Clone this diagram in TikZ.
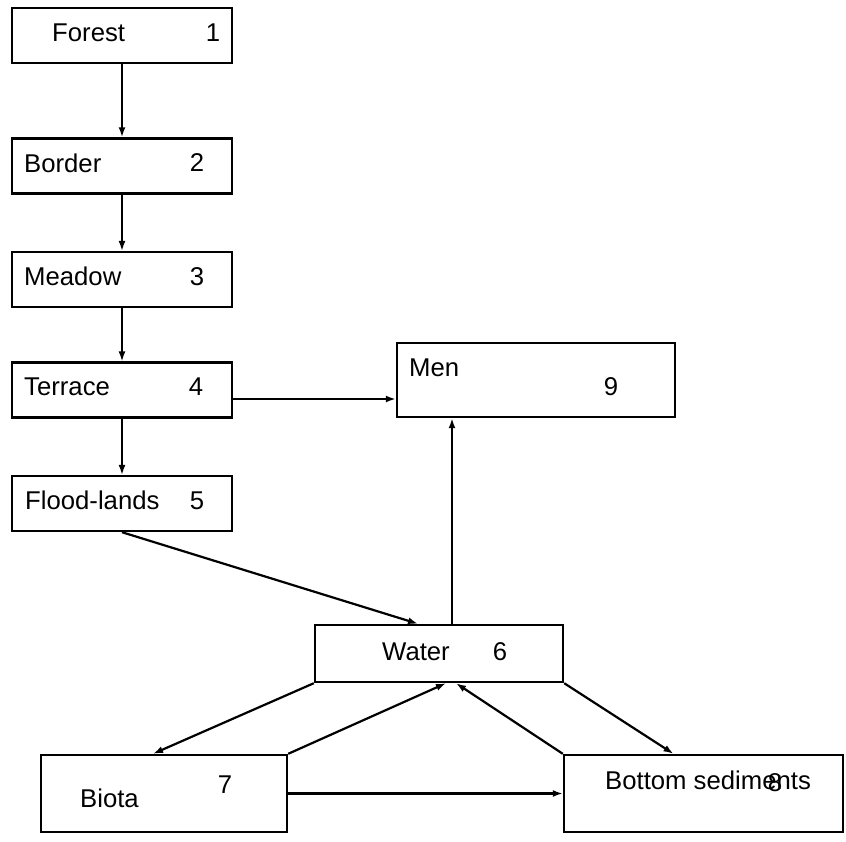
\documentclass[tikz,border=0pt]{standalone}
\usepackage{fontspec}
\setmainfont{Liberation Sans}
\usetikzlibrary{arrows.meta}

\begin{document}
\begin{tikzpicture}[x=1pt, y=-1pt, >={Latex[length=10pt,width=7pt]}]
    \tikzstyle{box}=[draw, line width=2.4pt, rectangle, inner sep=0pt]
    \tikzstyle{left box}=[box, minimum width=220pt, minimum height=55pt]
    \tikzstyle{word}=[inner sep=0pt, font=\fontsize{25.7pt}{30pt}\selectfont]
    \tikzstyle{link}=[->, line width=2.2pt]
    \tikzstyle{thin link}=[->, line width=1.5pt]

    \useasboundingbox (0,0) rectangle (846,841);

    % left column
    \foreach \n/\y/\txt/\tx/\nx in {1/35.5/Forest/52/213, 2/166/Border/24/197,
            3/279.5/Meadow/24/197, 4/390/Terrace/24/196, 5/503.5/Flood-lands/25/197}
    {
        \node[left box] (L-\n) at (122,\y) {};
        \node[word, anchor=west] (L-\n-t) at (\tx,\y-3) {\txt};
        \node[word] (L-\n-n) at (\nx,\y-3) {\n};
    }

    \node[box, minimum width=278pt, minimum height=74pt] (Men) at (536,380) {};
    \node[word, anchor=west] (Men-t) at (409,368) {Men};
    \node[word] (Men-n) at (611,387) {9};

    \node[box, minimum width=248pt, minimum height=57pt] (Water) at (439,653.5) {};
    \node[word, anchor=west] (Water-t) at (382,652) {Water};
    \node[word] (Water-n) at (500,652) {6};

    \node[box, minimum width=246pt, minimum height=77pt] (Biota) at (164,793.5) {};
    \node[word, anchor=west] (Biota-t) at (80,798) {Biota};
    \node[word] (Biota-n) at (225,785) {7};

    \node[box, minimum width=279pt, minimum height=77pt] (Sed) at (703.5,793.5) {};
    \node[word, anchor=west] (Sed-t) at (605,780) {Bottom sediments};
    \node[word] (Sed-n) at (775,783) {8};

    % connectors
    \draw[link] (L-1) -- (L-2);
    \foreach \s/\d in {2/3,3/4,4/5}
        \draw[thin link] (L-\s) -- (L-\d);

    \coordinate (tm) at ([yshift=-9pt]L-4.east);
    \draw[link] (tm) -- (tm -| Men.west);
    \draw[link] ([xshift=13pt]Water.north) -- ([xshift=13pt]Water.north |- Men.south);
    \draw[link] (L-5.south) -- ([xshift=-21pt]Water.north);

    \draw[link] (Water.south west) -- ([xshift=-11pt]Biota.north);
    \draw[link] (Biota.north east) -- ([xshift=7pt]Water.south);
    \draw[link] (Sed.north west) -- ([xshift=17pt]Water.south);
    \draw[link] (Water.south east) -- ([xshift=-30pt]Sed.north);
    \draw[link] (Biota.east) -- (Sed.west);
\end{tikzpicture}
\end{document}
